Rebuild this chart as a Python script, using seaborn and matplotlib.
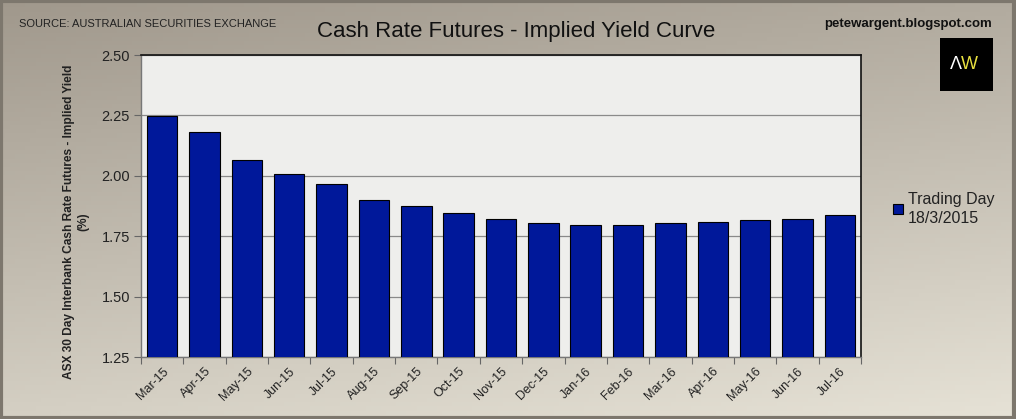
import numpy as np
import pandas as pd
import matplotlib.pyplot as plt
import matplotlib.patches as mpatches
import seaborn as sns

months = ['Mar-15', 'Apr-15', 'May-15', 'Jun-15', 'Jul-15', 'Aug-15', 'Sep-15',
          'Oct-15', 'Nov-15', 'Dec-15', 'Jan-16', 'Feb-16', 'Mar-16', 'Apr-16',
          'May-16', 'Jun-16', 'Jul-16']
implied_yield = [2.247, 2.180, 2.066, 2.008, 1.967, 1.900, 1.875, 1.846, 1.822,
                 1.803, 1.798, 1.798, 1.803, 1.810, 1.819, 1.822, 1.836]
yticks = [1.25, 1.50, 1.75, 2.00, 2.25, 2.50]
series_label = 'Trading Day\n18/3/2015'

df = pd.DataFrame({'Month': months, 'Yield': implied_yield})

sns.set_theme(style='white')
plt.rcParams['font.family'] = ['Liberation Sans', 'DejaVu Sans']

fig = plt.figure(figsize=(10.16, 4.19), dpi=100)

# beige gradient background, darker at the top
bg = fig.add_axes([0, 0, 1, 1], zorder=-10)
gx, gy = np.meshgrid(np.linspace(0, 1, 200), np.linspace(0, 1, 100))
grad = 0.25 * gx + 0.75 * gy
c0 = np.array([160, 152, 140]) / 255
c1 = np.array([230, 226, 214]) / 255
img = c0[None, None, :] + (c1 - c0)[None, None, :] * grad[:, :, None]
bg.imshow(img, aspect='auto', extent=[0, 1, 0, 1], origin='upper')
bg.set_axis_off()
bg.add_patch(mpatches.Rectangle((0.001, 0.002), 0.997, 0.995, fill=False,
                                edgecolor='#7d776d', linewidth=3,
                                transform=bg.transAxes))

ax = fig.add_axes([141 / 1016, 1 - 357 / 419, 720 / 1016, 302 / 419])
ax.set_facecolor('#eeeeec')
sns.barplot(data=df, x='Month', y='Yield', color='#00189a', saturation=1,
            edgecolor='black', linewidth=0.8, width=0.72, ax=ax,
            label=series_label, zorder=3)

ax.set_ylim(1.25, 2.50)
ax.set_xlim(-0.5, len(months) - 0.5)
ax.set_yticks(yticks)
ax.set_yticklabels([f'{v:.2f}' for v in yticks], fontsize=10.5, color='#222222')
ax.yaxis.grid(True, color='#8a8a8a', linewidth=0.9, zorder=0)
ax.set_axisbelow(True)

ax.set_xticks(range(len(months)))
ax.set_xticklabels(months, rotation=45, ha='right', rotation_mode='anchor',
                   fontsize=9, color='#222222')
ax.tick_params(axis='x', length=0, pad=6)
ax.set_xticks(np.arange(-0.5, len(months)), minor=True)
ax.tick_params(axis='x', which='minor', length=5, color='#666666', width=0.8,
               direction='out', bottom=True)
ax.tick_params(axis='y', length=5, color='#666666', width=0.8, direction='out',
               left=True, pad=3)

for side in ['left', 'bottom']:
    ax.spines[side].set_color('#777777')
    ax.spines[side].set_linewidth(1)
for side in ['top', 'right']:
    ax.spines[side].set_color('#111111')
    ax.spines[side].set_linewidth(1.2)

ax.set_xlabel('')
ax.set_ylabel('ASX 30 Day Interbank Cash Rate Futures - Implied Yield\n(%)',
              fontsize=8.6, fontweight='bold', color='#222222',
              linespacing=1.2)
ax.yaxis.set_label_coords(-52 / 720, 0.447)

leg = ax.legend(loc='center left', bbox_to_anchor=(879 / 1016, 1 - 209 / 419),
                bbox_transform=fig.transFigure, frameon=False, fontsize=11.5,
                handlelength=0.6, handleheight=0.6, handletextpad=0.3,
                labelcolor='#222222')
for t in leg.get_texts():
    t.set_linespacing(1.35)

fig.text(516 / 1016, 1 - 31 / 419, 'Cash Rate Futures - Implied Yield Curve',
         ha='center', va='center', fontsize=16, color='#111111')
fig.text(19 / 1016, 1 - 24 / 419, 'SOURCE: AUSTRALIAN SECURITIES EXCHANGE',
         ha='left', va='center', fontsize=8, color='#222222')
fig.text(992 / 1016, 1 - 24 / 419, 'petewargent.blogspot.com',
         ha='right', va='center', fontsize=9.5, fontweight='bold', color='#111111')

# AW logo
fig.patches.append(mpatches.Rectangle((940 / 1016, 1 - 91 / 419), 53 / 1016, 53 / 419,
                                      facecolor='black', edgecolor='none',
                                      transform=fig.transFigure))
fig.text(962 / 1016, 1 - 64 / 419, 'Λ', ha='right', va='center', fontsize=13,
         color='white')
fig.text(961 / 1016, 1 - 64 / 419, 'W', ha='left', va='center', fontsize=13,
         color='#e8e040')

fig.savefig('out.png', dpi=100)
